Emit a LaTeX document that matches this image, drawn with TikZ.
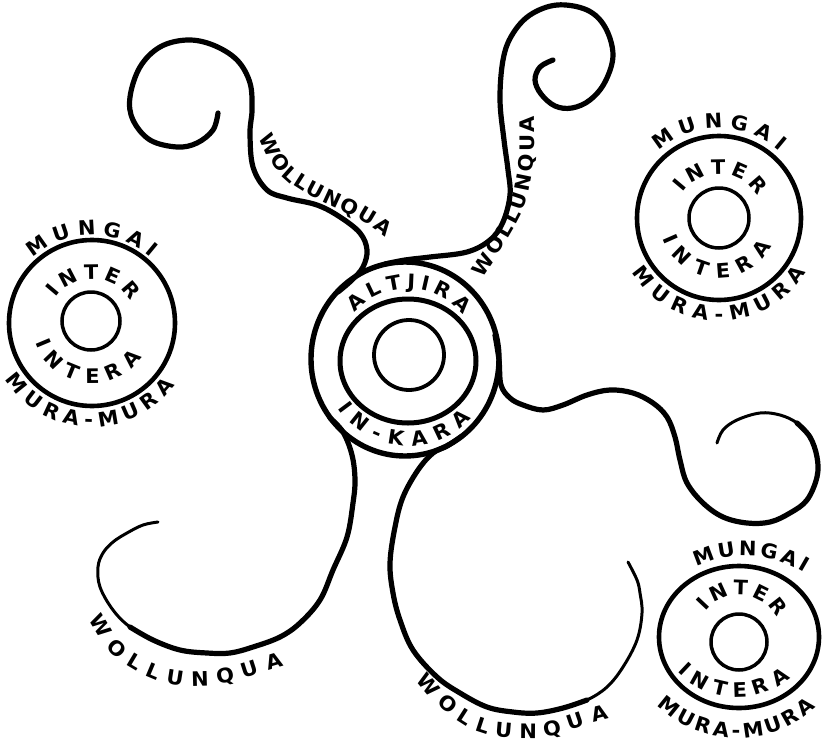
\documentclass[tikz,border=0pt]{standalone}
\usepackage{fontspec}
\newfontfamily\lettering{DejaVu Sans}[FakeStretch=1.05]
\newcommand\lettertype{\fontsize{20}{20}\lettering\bfseries}
\usetikzlibrary{decorations.text}
\tikzset{
  outerring/.style={line width=4.6pt},
  innerring/.style={line width=3.5pt},
  arm/.style={line width=5.2pt, line cap=round, line join=round},
  armtail/.style={line width=3pt, line cap=round, line join=round},
  lbl/.style={decorate, decoration={text along path, text align={fit to path},
      text={|\lettertype|#1}}},
}
\begin{document}
\begin{tikzpicture}[x=1pt,y=1pt]
\useasboundingbox (0,0) rectangle (822,-747);

% ---------- central disc ----------
\coordinate (cc) at (405,-359);
\coordinate (cm) at (408,-361);
\coordinate (ci) at (409,-355);
\draw[line width=5.4pt] (cc) ellipse[x radius=94, y radius=97];
\draw[line width=5pt] (cm) ellipse[x radius=68, y radius=62];
\draw[line width=3.8pt] (ci) circle[radius=35];
\path[lbl=ALTJIRA] (cm) ++(138:72) arc[start angle=138, end angle=40, radius=72];
\path[lbl=IN-KARA] (cm) ++(214:85) arc[start angle=214, end angle=318, radius=85];

% ---------- side circles ----------
% left
\coordinate (lc) at (92,-323);
\draw[outerring] (lc) circle[radius=83];
\draw[innerring] (91,-321) circle[radius=29];
\path[lbl=MUNGAI] (lc) ++(132:88) arc[start angle=132, end angle=48, radius=88];
\path[lbl=INTER] (lc) ++(145:44) arc[start angle=145, end angle=30, radius=44];
\path[lbl=INTERA] (lc) ++(199:60) arc[start angle=199, end angle=326, radius=60];
\path[lbl=MURA-MURA] (lc) ++(213:104) arc[start angle=213, end angle=323, radius=104];

% top right
\coordinate (tc) at (719,-218);
\draw[outerring] (tc) circle[radius=82];
\draw[innerring] (tc) circle[radius=30];
\path[lbl=MUNGAI] (tc) ++(132:90) arc[start angle=132, end angle=48, radius=90];
\path[lbl=INTER] (tc) ++(145:44) arc[start angle=145, end angle=30, radius=44];
\path[lbl=INTERA] (tc) ++(200:60) arc[start angle=200, end angle=332, radius=60];
\path[lbl=MURA-MURA] (tc) ++(212:103) arc[start angle=212, end angle=328, radius=103];

% bottom right
\coordinate (bc) at (739,-637);
\draw[outerring] (bc) ellipse[x radius=80, y radius=71];
\draw[innerring] (739,-642) circle[radius=28];
\path[lbl=MUNGAI] (745,-667) ++(116:111) arc[start angle=116, end angle=58, radius=111];
\path[lbl=INTER] (bc) ++(142:42) arc[start angle=142, end angle=27, radius=42];
\path[lbl=INTERA] (737,-614) ++(224:83) arc[start angle=224, end angle=310, radius=83];
\path[lbl=MURA-MURA] (737,-622) ++(226:116) arc[start angle=226, end angle=313, radius=116];

% ---------- the five arms ----------
% arm 1 (upper left)
\draw[arm] plot[smooth, tension=0.6] coordinates {(338,-292) (352,-280) (363,-267) (367,-250) (360,-233) (340,-217) (317,-205) (287,-198) (267,-190) (253,-167) (250,-133) (252,-110) (250,-83) (237,-60) (213,-45) (187,-40) (160,-47) (140,-67) (130,-97) (133,-120) (150,-140) (177,-147) (197,-143) (213,-130) (218,-113)};
% arm 2 (upper right)
\draw[arm] plot[smooth, tension=0.6] coordinates {(385,-264) (405,-260) (430,-257) (467,-252) (490,-240) (503,-222) (510,-195) (508,-170) (504,-140) (500,-100) (503,-60) (512,-35) (530,-15) (557,-5) (587,-10) (605,-27) (613,-55) (605,-82) (590,-100) (572,-108) (555,-106) (541,-94) (535,-80) (540,-67) (553,-60)};
% arm 3 (lower left)
\draw[arm] plot[smooth, tension=0.6] coordinates {(330,-418) (343,-432) (352,-455) (355,-480) (353,-503) (347,-537) (333,-570) (320,-600) (300,-623) (280,-637) (253,-647) (230,-653) (207,-653) (180,-650) (153,-640) (130,-627)};
\draw[armtail] plot[smooth, tension=0.6] coordinates {(153,-640) (130,-627) (113,-610) (100,-587) (98,-567) (103,-553) (113,-542) (127,-533) (143,-525) (158,-522)};
% arm 4 (bottom loop)
\draw[arm] plot[smooth, tension=0.6] coordinates {(462,-436) (447,-446) (433,-453) (418,-470) (403,-497) (395,-527) (390,-563) (393,-593) (400,-620) (413,-650) (437,-677) (460,-693) (487,-707) (513,-712) (537,-713) (563,-708) (587,-700)};
\draw[armtail] plot[smooth, tension=0.6] coordinates {(563,-708) (587,-700) (607,-687) (623,-667) (637,-640) (642,-613) (640,-593) (637,-580) (628,-562)};
% arm 5 (right)
\draw[arm] plot[smooth, tension=0.6] coordinates {(495,-335) (499,-360) (501,-385) (510,-398) (523,-405) (543,-410) (563,-405) (587,-395) (610,-390) (633,-393) (653,-403) (667,-417) (675,-437) (680,-460) (687,-483) (703,-503) (723,-517) (747,-523) (770,-522) (790,-513) (807,-500) (817,-477) (817,-457) (810,-437) (797,-423)};
\draw[armtail] plot[smooth, tension=0.6] coordinates {(810,-437) (797,-423) (780,-415) (760,-413) (737,-420) (723,-430) (717,-443)};

% ---------- arm labels ----------
\path[lbl=WOLLUNQUA] (259,-137) to[out=-68,in=150] (302,-191) to[out=-30,in=140] (385,-237);
\path[lbl=WOLLUNQUA] (482,-278) to[out=55,in=-120] (508,-238) to[out=60,in=-105] (528,-195) to[out=75,in=-90] (534,-116);
\path[lbl=WOLLUNQUA] (88,-620) to[out=-58,in=148] (125,-664) to[out=-32,in=178] (190,-686) to[out=-2,in=195] (284,-666);
\path[lbl=WOLLUNQUA] (416,-680) to[out=-52,in=145] (458,-721) to[out=-35,in=178] (525,-738) to[out=-2,in=192] (609,-719);
\end{tikzpicture}
\end{document}
